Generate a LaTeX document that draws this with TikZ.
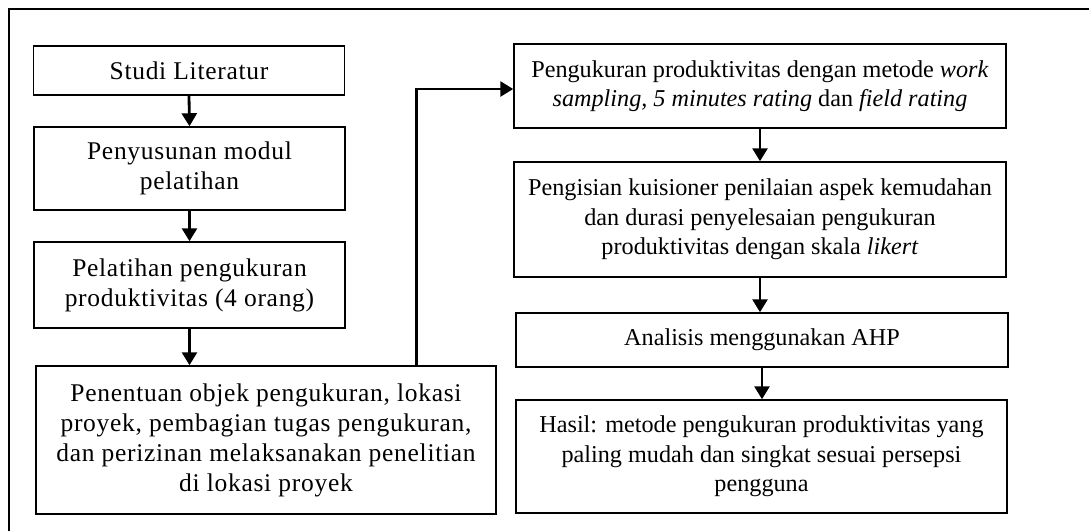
\documentclass[tikz,border=0pt]{standalone}
\usepackage{fontspec}
\setmainfont{Liberation Serif}
\usetikzlibrary{arrows.meta,calc}
\begin{document}
\begin{tikzpicture}[x=1pt,y=-1pt,
  box/.style={draw,line width=1.5pt,align=center,inner sep=0pt},
  lbox/.style={box,font=\fontsize{25.5}{30}\selectfont\addfontfeature{LetterSpace=2.8}},
  rbox/.style={box,font=\fontsize{24.2}{29.5}\selectfont},
  arr/.style={line width=2.8pt,-{Triangle[length=13pt,width=15pt]}},
  frame/.style={line width=2pt}]
\useasboundingbox (0,0) rectangle (1089,531);
\draw[frame] (9,531) -- (9,9) -- (1089,9);
% left column
\node[lbox,minimum width=311pt,minimum height=49pt] (s1) at (189,70.5) {Studi Literatur};
\node[lbox,minimum width=311pt,minimum height=83pt] (s2) at (189.5,168.5) {Penyusunan modul\\pelatihan};
\node[lbox,minimum width=311pt,minimum height=86pt] (s3) at (189.5,285) {Pelatihan pengukuran\\produktivitas (4 orang)};
\node[lbox,minimum width=460pt,minimum height=148pt] (s4) at (266,440) {Penentuan objek pengukuran, lokasi\\proyek, pembagian tugas pengukuran,\\dan perizinan melaksanakan penelitian\\di lokasi proyek};
% right column
\node[rbox,minimum width=492pt,minimum height=84pt] (r1) at (760,86) {Pengukuran produktivitas dengan metode \textit{work}\\\textit{sampling, 5 minutes rating} dan \textit{field rating}};
\node[rbox,minimum width=492pt,minimum height=115pt] (r2) at (760,219.5) {Pengisian kuisioner penilaian aspek kemudahan\\dan durasi penyelesaian pengukuran\\produktivitas dengan skala \textit{likert}};
\node[rbox,minimum width=492pt,minimum height=54pt] (r3) at (762,340) {Analisis menggunakan AHP};
\node[rbox,minimum width=491pt,minimum height=113pt] (r4) at (761.5,456.5) {Hasil: metode pengukuran produktivitas yang\\paling mudah dan singkat sesuai persepsi\\pengguna};
% connectors
\draw[arr] (s1.south) -- (s2.north);
\draw[arr] (s2.south) -- (s3.north);
\draw[arr] (s3.south) -- (s3.south |- s4.north);
\coordinate (up) at ($(s4.north west)!0.826!(s4.north east)$);
\draw[arr] (up) |- ($(r1.west)+(0,3)$);
\draw[arr] (r1.south) -- (r1.south |- r2.north);
\draw[arr] (r2.south) -- (r2.south |- r3.north);
\draw[arr] (r3.south) -- (r3.south |- r4.north);
\end{tikzpicture}
\end{document}
